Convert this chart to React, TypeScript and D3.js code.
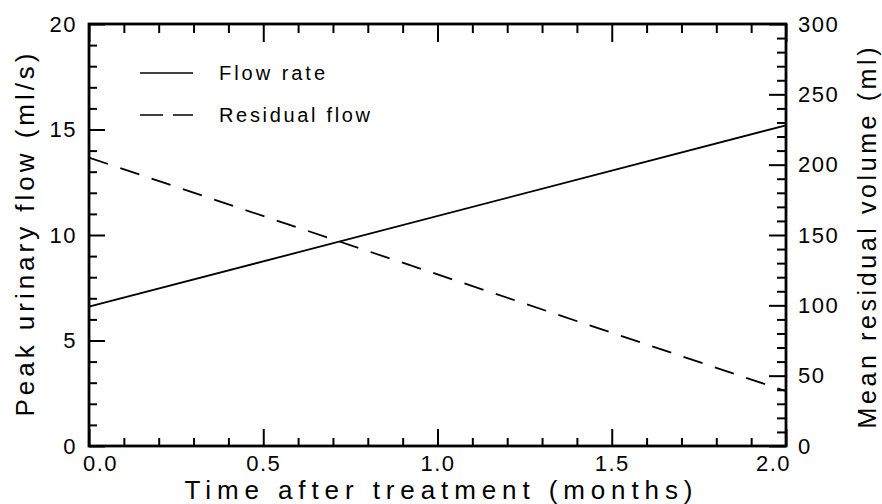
import * as d3 from 'd3';
import {useEffect, useRef} from 'react';

// time after treatment (months) at the two ends of each fitted line
const months = [0, 2];
const flowRate = [6.6, 15.2]; // ml/s, left axis
const residualVolume = [205, 39]; // ml, right axis

const xMajorTicks = [0, 0.5, 1, 1.5, 2];
const leftMajorTicks = [0, 5, 10, 15, 20];
const rightMajorTicks = [0, 50, 100, 150, 200, 250, 300];

const legendLabels = ['Flow rate', 'Residual flow'];

const FONT = '"Liberation Sans", Arial, sans-serif';

export default function App({width = 882, height = 504}) {
    const ref = useRef(null);

    const margins = {top: 24, right: 96, bottom: 58, left: 89};
    const innerWidth = width - margins.left - margins.right;
    const innerHeight = height - margins.top - margins.bottom;

    useEffect(() => {
        const svg = d3.select(ref.current);
        svg.selectAll('*').remove();

        const x = d3.scaleLinear().domain([0, 2]).range([0, innerWidth]);
        const yLeft = d3.scaleLinear().domain([0, 20]).range([innerHeight, 0]);
        const yRight = d3.scaleLinear().domain([0, 300]).range([innerHeight, 0]);

        const g = svg.append('g').attr('transform', `translate(${margins.left},${margins.top})`);

        const minorX = d3.range(0, 2.0001, 0.1).filter((v) => Math.abs(v * 2 - Math.round(v * 2)) > 1e-6);
        const minorLeft = d3.range(0, 21, 1).filter((v) => v % 5 !== 0);
        const minorRight = d3.range(0, 301, 10).filter((v) => v % 50 !== 0);

        const styleAxis = (sel) => {
            sel.select('.domain').remove();
            sel.selectAll('line').attr('stroke', '#000').attr('stroke-width', 2);
            sel.selectAll('text')
                .attr('fill', '#000')
                .style('font-family', FONT)
                .style('font-size', '22px')
                .style('letter-spacing', '1.5px');
        };

        // bottom
        g.append('g')
            .attr('transform', `translate(0,${innerHeight})`)
            .call(d3.axisBottom(x).tickValues(minorX).tickSize(-8).tickFormat(() => ''))
            .call(styleAxis);
        const bottom = g
            .append('g')
            .attr('transform', `translate(0,${innerHeight})`)
            .call(d3.axisBottom(x).tickValues(xMajorTicks).tickSize(-17).tickPadding(9).tickFormat(d3.format('.1f')))
            .call(styleAxis);
        bottom.selectAll('text').attr('dx', (d) => (d === 0 ? 11 : d === 2 ? -13 : 0));

        // top
        g.append('g')
            .call(d3.axisTop(x).tickValues(minorX).tickSize(-9).tickFormat(() => ''))
            .call(styleAxis);
        g.append('g')
            .call(d3.axisTop(x).tickValues(xMajorTicks).tickSize(-18).tickFormat(() => ''))
            .call(styleAxis);

        // left
        g.append('g')
            .call(d3.axisLeft(yLeft).tickValues(minorLeft).tickSize(-8).tickFormat(() => ''))
            .call(styleAxis);
        g.append('g')
            .call(d3.axisLeft(yLeft).tickValues(leftMajorTicks).tickSize(-16).tickPadding(12))
            .call(styleAxis);

        // right
        g.append('g')
            .attr('transform', `translate(${innerWidth},0)`)
            .call(d3.axisRight(yRight).tickValues(minorRight).tickSize(-9).tickFormat(() => ''))
            .call(styleAxis);
        g.append('g')
            .attr('transform', `translate(${innerWidth},0)`)
            .call(d3.axisRight(yRight).tickValues(rightMajorTicks).tickSize(-17).tickPadding(12))
            .call(styleAxis);

        // frame
        g.append('rect')
            .attr('width', innerWidth)
            .attr('height', innerHeight)
            .attr('fill', 'none')
            .attr('stroke', '#000')
            .attr('stroke-width', 2.8);

        // lines
        const flowLine = d3
            .line<number>()
            .x((_, i) => x(months[i]))
            .y((d) => yLeft(d));
        const residualLine = d3
            .line<number>()
            .x((_, i) => x(months[i]))
            .y((d) => yRight(d));

        g.append('path')
            .attr('d', flowLine(flowRate))
            .attr('fill', 'none')
            .attr('stroke', '#000')
            .attr('stroke-width', 1.8);
        g.append('path')
            .attr('d', residualLine(residualVolume))
            .attr('fill', 'none')
            .attr('stroke', '#000')
            .attr('stroke-width', 1.8)
            .attr('stroke-dasharray', '20,13');

        // legend
        const legend = svg.append('g');
        legendLabels.forEach((label, i) => {
            const ly = 73 + i * 42;
            legend
                .append('line')
                .attr('x1', 140)
                .attr('x2', 193)
                .attr('y1', ly)
                .attr('y2', ly)
                .attr('stroke', '#000')
                .attr('stroke-width', 1.6)
                .attr('stroke-dasharray', i === 1 ? '23,10' : null);
            legend
                .append('text')
                .attr('x', 219)
                .attr('y', ly + 7)
                .attr('textLength', i === 0 ? 106 : 151)
                .attr('lengthAdjust', 'spacing')
                .style('font-family', FONT)
                .style('font-size', '20px')
                .text(label);
        });

        // axis titles
        svg.append('text')
            .attr('x', margins.left + innerWidth / 2 + 1)
            .attr('y', 499)
            .attr('text-anchor', 'middle')
            .attr('textLength', 508)
            .attr('lengthAdjust', 'spacing')
            .style('font-family', FONT)
            .style('font-size', '26px')
            .text('Time after treatment (months)');

        svg.append('text')
            .attr('transform', `translate(34,${margins.top + innerHeight / 2}) rotate(-90)`)
            .attr('text-anchor', 'middle')
            .attr('textLength', 363)
            .attr('lengthAdjust', 'spacing')
            .style('font-family', FONT)
            .style('font-size', '26px')
            .text('Peak urinary flow (ml/s)');

        svg.append('text')
            .attr('transform', `translate(876,${margins.top + innerHeight / 2 + 3}) rotate(-90)`)
            .attr('text-anchor', 'middle')
            .attr('textLength', 381)
            .attr('lengthAdjust', 'spacing')
            .style('font-family', FONT)
            .style('font-size', '25px')
            .text('Mean residual volume (ml)');
    }, []);

    return (
        <svg
            ref={ref}
            width={width}
            height={height}
            style={{position: 'absolute', left: 0, top: 0, background: '#fff'}}
        ></svg>
    );
}
